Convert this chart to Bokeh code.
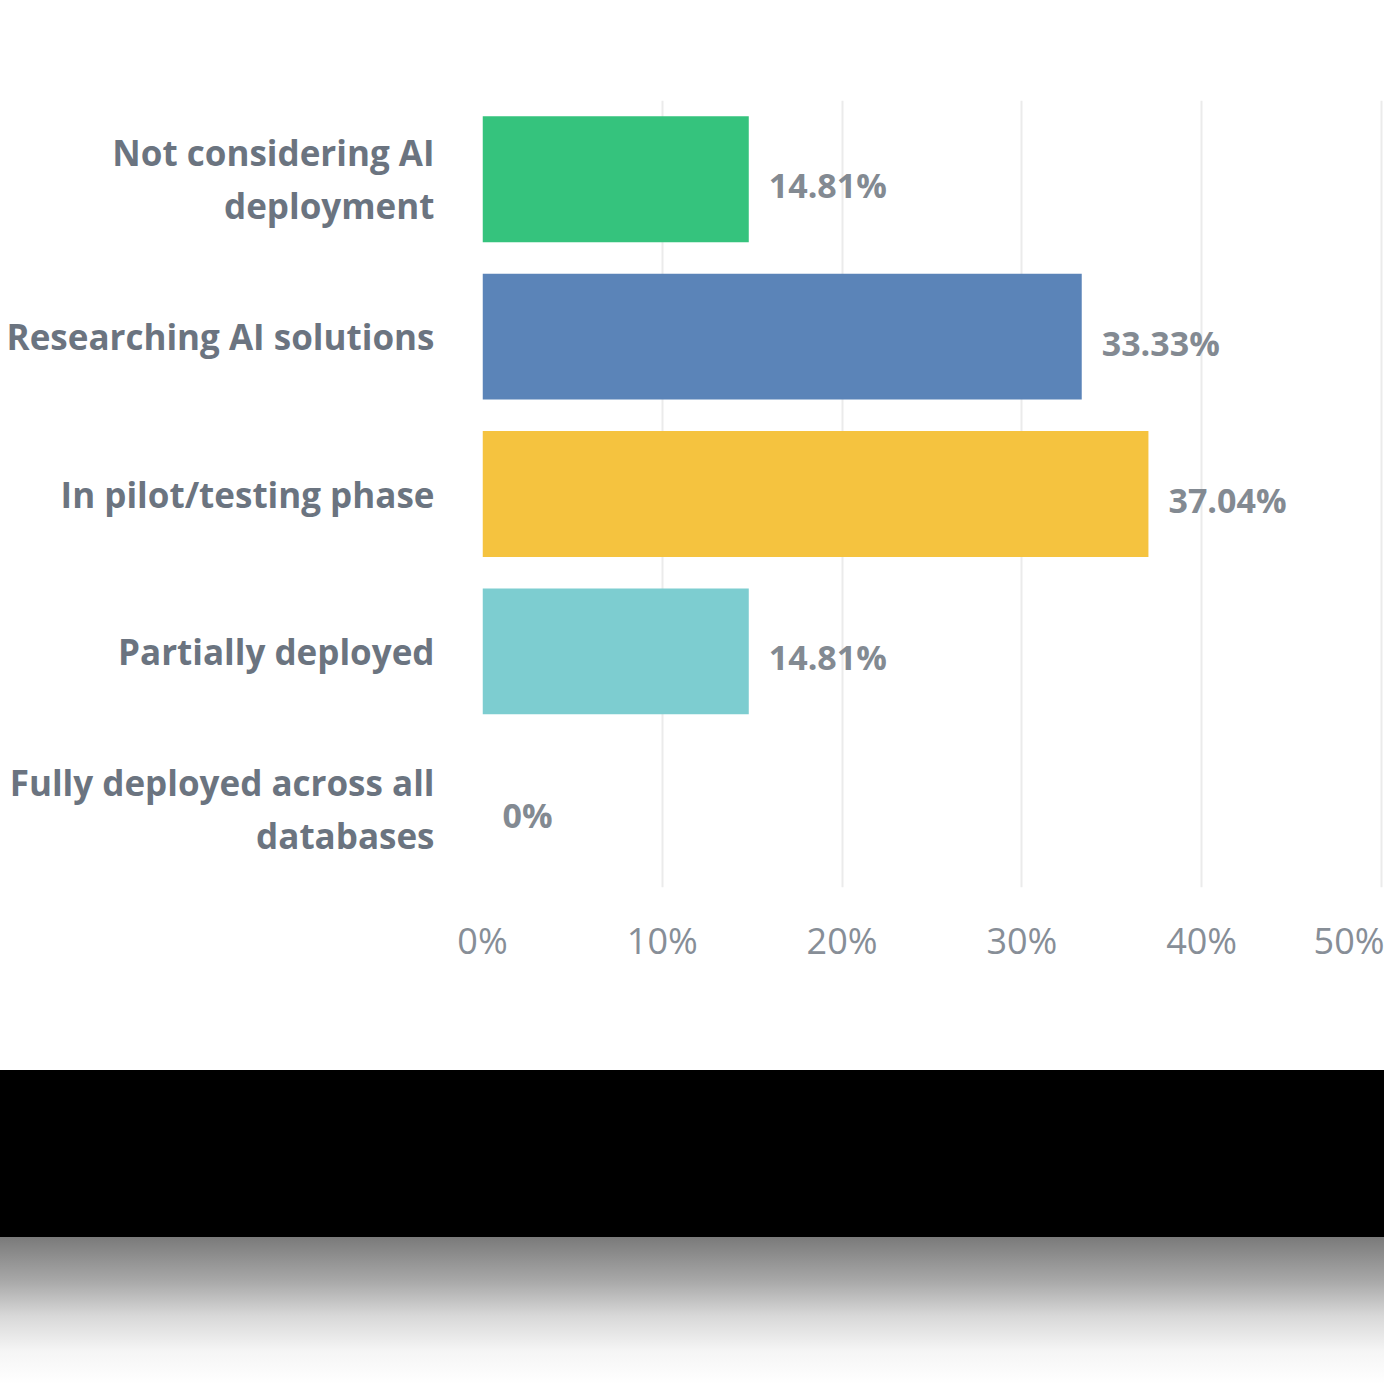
from bokeh.plotting import figure
from bokeh.models import FactorRange, Range1d, FixedTicker, PrintfTickFormatter, ColumnDataSource, Div
from bokeh.layouts import column
from bokeh.core.properties import value
from bokeh.embed import file_html
from bokeh.resources import INLINE

categories = [
    "Not considering AI\ndeployment",
    "Researching AI solutions",
    "In pilot/testing phase",
    "Partially deployed",
    "Fully deployed across all\ndatabases",
]
percentages = [14.81, 33.33, 37.04, 14.81, 0.0]
value_labels = ["14.81%", "33.33%", "37.04%", "14.81%", "0%"]
bar_colors = ["#35C37D", "#5B84B8", "#F5C33F", "#7DCDD0", "#FFFFFF"]
x_ticks = [0, 10, 20, 30, 40, 50]

FONT = "Open Sans"

src = ColumnDataSource(dict(cat=categories, pct=percentages, lab=value_labels, col=bar_colors))

p = figure(
    width=1384, height=1070,
    y_range=FactorRange(*list(reversed(categories)), range_padding=0),
    x_range=Range1d(0, 50.17),
    output_backend="svg", toolbar_location=None,
    min_border_left=482, min_border_right=0, min_border_top=100, min_border_bottom=183,
)
p.outline_line_color = None
p.background_fill_color = "white"
p.border_fill_color = "white"

p.hbar(y="cat", right="pct", left=0, height=0.8, fill_color="col", line_color=None, source=src)
p.text(x="pct", y="cat", text="lab", source=src, x_offset=20, y_offset=6,
       text_align="left", text_baseline="middle",
       text_font=value(FONT), text_font_style="bold", text_font_size="34px", text_color="#838A92")

p.ygrid.grid_line_color = None
p.xgrid.grid_line_color = "#EBEBEB"
p.xgrid.grid_line_width = 2
p.xgrid.ticker = FixedTicker(ticks=x_ticks)

xa = p.xaxis[0]
xa.ticker = FixedTicker(ticks=x_ticks)
xa.formatter = PrintfTickFormatter(format="%d%%")
xa.axis_line_color = None
xa.major_tick_line_color = None
xa.minor_tick_line_color = None
xa.major_label_standoff = 22
xa.major_label_text_font = FONT
xa.major_label_text_font_size = "36px"
xa.major_label_text_color = "#878E97"

ya = p.yaxis[0]
ya.axis_line_color = None
ya.major_tick_line_color = None
ya.minor_tick_line_color = None
ya.major_label_standoff = 42
ya.major_label_text_font = FONT
ya.major_label_text_font_style = "bold"
ya.major_label_text_font_size = "35px"
ya.major_label_text_color = "#6B7480"
ya.major_label_text_line_height = 1.12

band = Div(width=1384, height=167, margin=0, styles={"background-color": "#000000"})
shade = Div(width=1384, height=147, margin=0, styles={
    "background": "linear-gradient(to bottom, #7a7a7a 0px, #a8a8a8 44px, #d8d8d8 79px, #f5f5f5 114px, #ffffff 147px)"
})

layout = column(p, band, shade, spacing=0)
open("out.html", "w").write(file_html(layout, INLINE))
